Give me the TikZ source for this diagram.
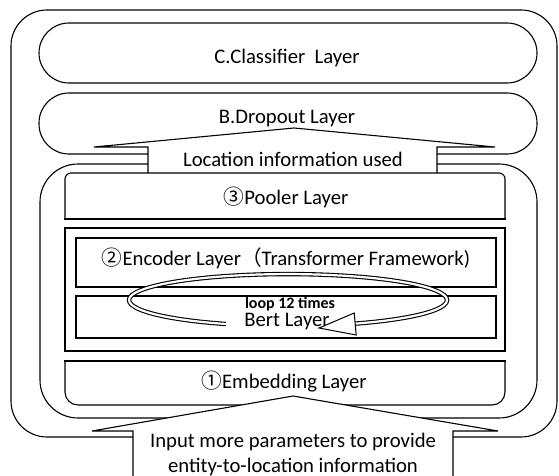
\documentclass[tikz,border=0pt]{standalone}
\usepackage{fontspec}
\setmainfont{Carlito}
\newfontfamily\cjk{Noto Sans CJK SC}
\tikzset{
  layer/.style={draw, line width=1.1pt, line cap=rect},
  blockarrow/.style={draw, fill=white, line width=1.1pt, line join=miter},
  lbl/.style={inner sep=0pt, anchor=base, font=\fontsize{20.7}{24}\selectfont},
}
\begin{document}
\begin{tikzpicture}[x=1pt, y=-1pt]
\useasboundingbox (0,0) rectangle (559,476);
% outer frame
\draw[layer, rounded corners=36pt] (11,10) rectangle (557,437);
% classifier and dropout
\draw[layer, rounded corners=30pt] (39,23) rectangle (537,83);
\draw[layer, rounded corners=30pt] (39,93) rectangle (537,154);
% bert block
\draw[layer, rounded corners=38pt] (40,164) rectangle (537,418);
\draw[blockarrow] (148,173) -- (148,147) -- (94,147) -- (294,128) -- (495,147) -- (437,147) -- (437,173);
% pooler
\draw[layer, rounded corners=6pt] (65,219) -- (65,173) -- (505,173) -- (505,219);
\draw[layer] (65,219) -- (505,219);
% encoder
\draw[layer] (65,228) rectangle (505,351);
\draw[layer] (76,238) rectangle (496,287);
\draw[layer] (76,296) rectangle (496,338);
% loop
\coordinate (lc) at (288,300);
\draw[line width=1.1pt, double=white, double distance=2.2pt]
  ([shift={(-62.1,24)}]lc) arc[start angle=-113, end angle=-425, x radius=159pt, y radius=26pt];
\draw[blockarrow, line width=1pt] (356.2,335) -- (319,328) -- (354.2,313) -- cycle;
% embedding
\draw[layer, rounded corners=13pt] (65,361) -- (65,405) -- (505,405) -- (505,361);
\draw[layer] (65,361) -- (505,361);
\draw[blockarrow] (133,480) -- (133,431) -- (92,431) -- (293,396) -- (498,431) -- (453,431) -- (453,480);
% labels
\node[lbl] (cls) at (287,63.5) {C.Classifier~ Layer};
\node[lbl] (drop) at (287,123.5) {B.Dropout Layer};
\node[lbl] (loc) at (293,166.5) {Location information used};
\node[lbl] (pool) at (286,204.5) {{\cjk ③}Pooler Layer};
\node[lbl] (enc) at (286,265) {{\cjk ②}Encoder Layer{\cjk （}Transformer Framework)};
\node[lbl, font=\bfseries\fontsize{16}{18}\selectfont] (loop) at (290,308) {loop 12 times};
\node[lbl] (bert) at (287,326.5) {Bert Layer};
\node[lbl] (emb) at (284,388.5) {{\cjk ①}Embedding Layer};
\node[lbl] (inp1) at (293,447.5) {Input more parameters to provide};
\node[lbl] (inp2) at (293,472) {entity-to-location information};
\end{tikzpicture}
\end{document}
